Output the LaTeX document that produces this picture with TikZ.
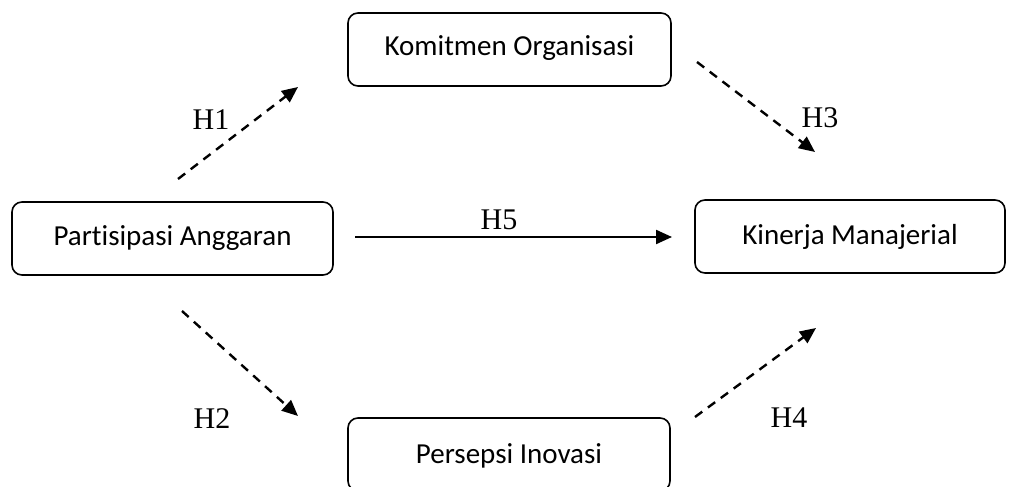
\documentclass[tikz,border=0pt]{standalone}
\usepackage{fontspec}
\setmainfont{Liberation Serif}
\newfontfamily\boxfont[Ligatures=NoCommon]{Carlito}
\usetikzlibrary{arrows.meta}
\begin{document}
\begin{tikzpicture}[x=1pt,y=-1pt,
  box/.style={draw, line width=1.6pt, rounded corners=10pt, font=\boxfont\fontsize{29}{33}\selectfont, inner sep=0pt, text height=19pt, text depth=6pt, minimum height=73pt},
  hlab/.style={font=\fontsize{30}{34}\selectfont, inner sep=0pt, anchor=base},
  darrow/.style={line width=2.4pt, dash pattern=on 9pt off 7pt, -{Triangle[length=16pt,width=14pt]}},
  sarrow/.style={line width=2.2pt, -{Triangle[length=16pt,width=14pt]}}]
\useasboundingbox (0,0) rectangle (1010,487);
\node[box, minimum width=323pt] (ko) at (509.5,49.5) {Komitmen Organisasi};
\node[box, minimum width=321pt] (pa) at (172.5,238.5) {Partisipasi Anggaran};
\node[box, minimum width=310pt] (km) at (850,236.5) {\raisebox{-1pt}{Kinerja Manajerial}};
\node[box, minimum width=322pt] (pi) at (509,454.5) {\raisebox{-2pt}{Persepsi Inovasi}};
\coordinate (h1s) at (178,179); \coordinate (h1e) at (298,87);
\coordinate (h3s) at (697,62); \coordinate (h3e) at (815,152);
\coordinate (h5s) at (355,237); \coordinate (h5e) at (672,237);
\coordinate (h2s) at (182,311); \coordinate (h2e) at (298,416);
\coordinate (h4s) at (695,417); \coordinate (h4e) at (816,328);
\draw[darrow] (h1s) -- (h1e);
\draw[darrow] (h3s) -- (h3e);
\draw[sarrow] (h5s) -- (h5e);
\draw[darrow] (h2s) -- (h2e);
\draw[darrow] (h4s) -- (h4e);
\node[hlab] (l1) at (211,129) {H1};
\node[hlab] (l3) at (820,128) {H3};
\node[hlab] (l5) at (499,229) {H5};
\node[hlab] (l2) at (212,428) {H2};
\node[hlab] (l4) at (789,427) {H4};
\end{tikzpicture}
\end{document}
